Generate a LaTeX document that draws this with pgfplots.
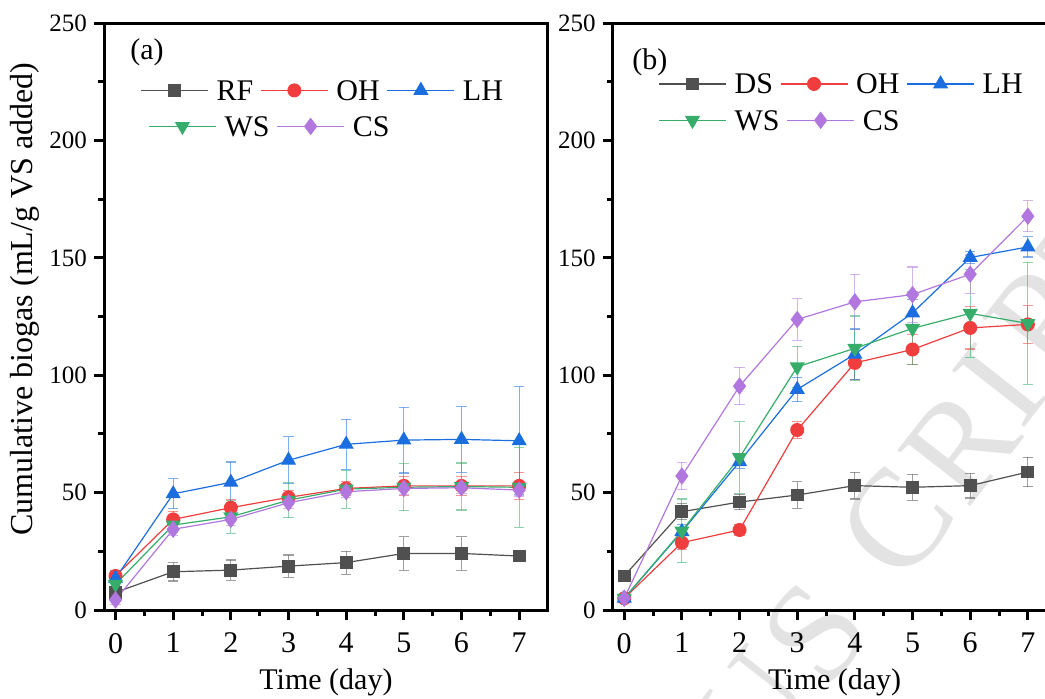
\documentclass[border=0pt]{standalone}
\usepackage{fontspec}
\setmainfont{Liberation Serif}
\usepackage{pgfplots}
\pgfplotsset{compat=1.18}
\definecolor{cgray}{RGB}{80,80,80}
\definecolor{cred}{RGB}{240,62,62}
\definecolor{cblue}{RGB}{26,110,224}
\definecolor{cgreen}{RGB}{55,173,107}
\definecolor{cpurple}{RGB}{177,119,222}
\tikzset{wm/.style={rotate=52, text=black!11, font=\fontsize{70}{80}\selectfont, inner sep=0pt, anchor=center}}
\pgfplotsset{
  myaxis/.style={
    scale only axis, width=222pt, height=293.35pt,
    xmin=-0.2, xmax=7.5, ymin=0, ymax=250,
    xtick={0,...,7}, ytick={0,50,...,250},
    minor x tick num=1, minor y tick num=1,
    xtick pos=bottom, ytick pos=left,
    tick align=outside,
    major tick length=5pt, minor tick length=3pt,
    axis line style={line width=1.5pt},
    major tick style={line width=1.5pt, black},
    minor tick style={line width=1.5pt, black},
    /pgf/number format/assume math mode=true,
    x tick label style={font=\fontsize{15}{18}\selectfont, yshift=-3pt},
    y tick label style={font=\fontsize{12.5}{15}\selectfont},
    xlabel={Time (day)},
    xlabel style={font=\fontsize{15}{18}\selectfont, at={(axis description cs:0.5,0)}, anchor=base, yshift=-39.5pt},
    legend cell align=left,
    legend style={draw=none, fill=none, font=\fontsize{15}{18}\selectfont, anchor=north west, inner sep=0pt,
      column sep=0pt, row sep=0pt,
      nodes={inner xsep=2pt, inner ysep=4pt, text height=10pt, text depth=0pt},
      /tikz/every odd column/.append style={column sep=2pt},
      /tikz/every even column/.append style={column sep=1.5pt}},
    legend image code/.code={\draw[mark repeat=2,mark phase=2,#1] plot coordinates {(0pt,0pt) (16.75pt,0pt) (33.5pt,0pt)};},
    every axis plot/.append style={line width=0.6pt},
    error bars/y dir=both, error bars/y explicit,
    error bars/error bar style={line width=0.6pt, draw opacity=0.55, solid},
    error bars/error mark options={rotate=90, mark size=2.6pt, line width=0.6pt, draw opacity=0.55},
    clip=false,
  },
  legaxis/.style={myaxis, hide axis, xlabel={}},
  sA/.style={color=cgray, mark=square*, mark size=2.9pt, mark options={solid, fill=cgray}},
  sB/.style={color=cred, mark=*, mark size=3.2pt, mark options={solid, fill=cred}},
  sC/.style={color=cblue, mark=triangle*, mark size=3.8pt, mark options={solid, fill=cblue}},
  sD/.style={color=cgreen, mark=triangle*, mark size=3.8pt, mark options={solid, fill=cgreen, rotate=180}},
  sE/.style={color=cpurple, mark=diamond*, mark size=3.9pt, mark options={solid, fill=cpurple}},
}
\begin{document}
\begin{tikzpicture}
\path[use as bounding box] (0,0) rectangle (522.5pt,349pt);
% watermark
\node[wm] at (377pt,-5.5pt) {U};
\node[wm] at (407.5pt,32.5pt) {S};
\node[wm] at (448pt,87.5pt) {C};
\node[wm] at (480pt,126.5pt) {R};
\node[wm] at (500pt,156.5pt) {I};
\node[wm] at (520pt,189pt) {P};
\node[wm] at (547.5pt,224.5pt) {T};

% ---------- panel (a) ----------
\begin{axis}[myaxis, at={(52pt,44pt)}, anchor=south west,
  ylabel={Cumulative biogas (mL/g VS added)},
  ylabel style={font=\fontsize{16}{19}\selectfont, at={(axis description cs:-0.178,0.53)}, anchor=center, rotate=0},
  legend columns=3,
  legend style={at={(axis description cs:0.081,0.917)}}]
\addplot[sA] table[x=x,y=y,y error=e]{
x y e
0 7.5 1.5
1 16.3 3.9
2 17.0 4.3
3 18.7 4.7
4 20.2 4.9
5 24.1 7.2
6 24.1 7.2
7 23.0 1.8
};
\addlegendentry{RF}
\addplot[sB] table[x=x,y=y,y error=e]{
x y e
0 14.5 2
1 38.6 3.5
2 43.6 3.4
3 48.0 3
4 51.8 2.8
5 52.9 4
6 52.9 4
7 52.9 5.7
};
\addlegendentry{OH}
\addplot[sC] table[x=x,y=y,y error=e]{
x y e
0 13.5 3.5
1 49.5 6.4
2 54.4 8.7
3 63.8 10
4 70.6 10.7
5 72.4 14
6 72.7 14
7 72.1 23
};
\addlegendentry{LH}
\addplot[sD] table[x=x,y=y,y error=e]{
x y e
0 11.0 2.5
1 36.2 3
2 39.7 7
3 46.8 7.5
4 51.5 8.1
5 52.3 10
6 52.6 10
7 52.3 17
};
\addplot[sE] table[x=x,y=y,y error=e]{
x y e
0 4.3 2
1 34.4 2.5
2 38.6 2.5
3 45.7 2.5
4 50.4 2.5
5 51.8 2.5
6 52.1 2.5
7 51.1 2.5
};
\node[anchor=west, font=\fontsize{15}{18}\selectfont, inner sep=0pt] at (axis description cs:0.0586,0.951) {(a)};
\end{axis}
\begin{axis}[legaxis, at={(52pt,44pt)}, anchor=south west,
  legend columns=2,
  legend style={at={(axis description cs:0.099,0.8556)}}]
\addlegendimage{sD}
\addlegendentry{WS}
\addlegendimage{sE}
\addlegendentry{CS}
\end{axis}

% ---------- panel (b) ----------
\begin{axis}[myaxis, at={(306.35pt,44pt)}, anchor=south west,
  legend columns=3,
  legend style={at={(axis description cs:0.102,0.928)}}]
\addplot[sA] table[x=x,y=y,y error=e]{
x y e
0 14.5 0.5
1 41.9 3.5
2 46.0 3.3
3 49.0 5.7
4 53.0 5.7
5 52.3 5.5
6 53.0 5.3
7 58.8 6.3
};
\addlegendentry{DS}
\addplot[sB] table[x=x,y=y,y error=e]{
x y e
0 5.0 1
1 28.7 3
2 34.1 2.5
3 76.7 3.5
4 105.3 7
5 111.0 6.4
6 120.2 9
7 121.7 8
};
\addlegendentry{OH}
\addplot[sC] table[x=x,y=y,y error=e]{
x y e
0 5.0 1.5
1 33.4 3
2 63.2 3
3 94.0 5.2
4 109.0 10.7
5 126.6 5.7
6 150.2 2.7
7 154.7 4.3
};
\addlegendentry{LH}
\addplot[sD] table[x=x,y=y,y error=e]{
x y e
0 5.0 1
1 33.7 13.6
2 65.0 15.3
3 103.6 8.8
4 111.5 13.8
5 120.0 15.5
6 126.4 18.8
7 122.1 26
};
\addplot[sE] table[x=x,y=y,y error=e]{
x y e
0 5.0 1
1 57.1 5.8
2 95.4 8
3 123.8 8.9
4 131.3 11.8
5 134.4 11.8
6 143.1 8.2
7 167.8 6.6
};
\node[anchor=west, font=\fontsize{15}{18}\selectfont, inner sep=0pt] at (axis description cs:0.0435,0.934) {(b)};
\end{axis}
\begin{axis}[legaxis, at={(306.35pt,44pt)}, anchor=south west,
  legend columns=2,
  legend style={at={(axis description cs:0.102,0.8659)}}]
\addlegendimage{sD}
\addlegendentry{WS}
\addlegendimage{sE}
\addlegendentry{CS}
\end{axis}
\end{tikzpicture}
\end{document}
